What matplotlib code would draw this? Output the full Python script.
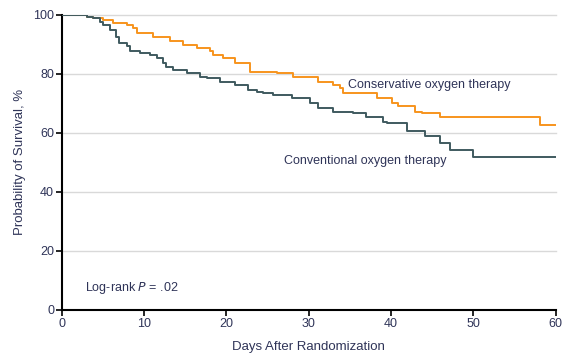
import numpy as np
import matplotlib
matplotlib.use('Agg')
import matplotlib.pyplot as plt

# Kaplan-Meier style step data (day of drop, survival after drop)
cons_days = [0, 3.0, 3.8, 5.0, 6.2, 7.9, 8.7, 9.1, 11.1, 13.1, 14.7, 16.4, 18.0,
             18.4, 19.6, 21.0, 22.8, 26.1, 28.1, 31.1, 32.9, 33.8, 34.1, 38.3,
             40.1, 40.8, 42.9, 43.7, 45.9, 58.1, 60]
cons_surv = [100, 99.4, 98.9, 98.3, 97.2, 96.6, 95.5, 93.9, 92.6, 91.0, 89.8,
             88.7, 87.6, 86.4, 85.3, 83.6, 80.8, 80.2, 79.1, 77.4, 76.3, 75.2,
             73.4, 71.8, 70.1, 69.0, 67.2, 66.7, 65.5, 62.7, 62.7]

conv_days = [0, 3.0, 3.8, 4.6, 5.0, 5.8, 6.6, 7.0, 7.9, 8.3, 9.5, 10.7, 11.5,
             12.3, 12.7, 13.5, 15.2, 16.8, 17.6, 19.2, 21.0, 22.6, 23.7, 24.4,
             25.7, 27.9, 30.1, 31.1, 32.9, 35.4, 37.0, 39.0, 39.5, 41.9, 44.1,
             45.9, 47.1, 50.0, 60]
conv_surv = [100, 99.4, 98.9, 97.7, 96.6, 94.9, 92.6, 90.4, 89.3, 87.6, 87.0,
             86.4, 85.3, 83.6, 82.5, 81.4, 80.2, 79.1, 78.5, 77.4, 76.3, 74.6,
             74.0, 73.4, 72.9, 71.8, 70.1, 68.4, 67.2, 66.7, 65.5, 63.8, 63.3,
             60.5, 58.8, 56.5, 54.2, 52.0, 52.0]

x_ticks = [0, 10, 20, 30, 40, 50, 60]
y_ticks = [0, 20, 40, 60, 80, 100]

text_col = '#2f3458'
plt.rcParams['font.family'] = ['Liberation Sans', 'DejaVu Sans']

fig = plt.figure(figsize=(5.62, 3.55), dpi=100)
ax = fig.add_axes([0.110, 0.127, 0.879, 0.831])

# grid
for y in y_ticks[1:]:
    ax.axhline(y, color='#d9d9d9', lw=1.0, zorder=0, clip_on=False)

ax.step(conv_days, conv_surv, where='post', color='#3f5a5f', lw=1.4, zorder=3)
ax.step(cons_days, cons_surv, where='post', color='#f7941d', lw=1.4, zorder=2)

ax.set_xlim(0, 60)
ax.set_ylim(0, 100)
ax.set_xticks(x_ticks)
ax.set_yticks(y_ticks)
ax.tick_params(direction='out', length=4, width=1.2, color='black',
               labelsize=9, labelcolor=text_col, pad=1.5)

for side in ['top', 'right']:
    ax.spines[side].set_visible(False)
for side in ['left', 'bottom']:
    ax.spines[side].set_linewidth(1.5)
    ax.spines[side].set_color('black')

ax.set_xlabel('Days After Randomization', fontsize=9.5, color=text_col, va='center')
ax.xaxis.set_label_coords(0.5, -0.125)
ax.set_ylabel('Probability of Survival, %', fontsize=9.5, color=text_col, va='center')
ax.yaxis.set_label_coords(-0.085, 0.5)

ax.text(34.8, 76.3, 'Conservative oxygen therapy', fontsize=9, color=text_col,
        va='center', ha='left')
ax.text(27.0, 50.5, 'Conventional oxygen therapy', fontsize=9, color=text_col,
        va='center', ha='left')
ax.text(2.8, 7.5, 'Log-rank $\\it{P}$ = .02', fontsize=9, color=text_col,
        va='center', ha='left')

plt.savefig('out.png', dpi=100)
